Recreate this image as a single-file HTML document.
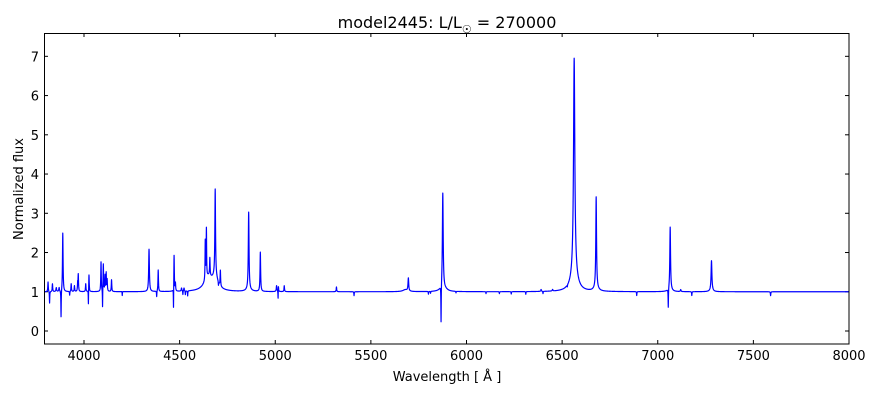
<!DOCTYPE html>
<html><head><meta charset="utf-8"><style>
body{margin:0;background:#fff;}
svg{display:block;font-family:"DejaVu Sans","Liberation Sans",sans-serif;}
</style></head><body>
<svg id="s" width="880" height="400" xmlns="http://www.w3.org/2000/svg">
<rect width="880" height="400" fill="#fff"/>
<text x="447" y="28" font-size="16" text-anchor="middle">model2445: L/L<tspan font-size="11" dy="5">☉</tspan><tspan dy="-5"> = 270000</tspan></text>
<text x="447" y="381" font-size="13" text-anchor="middle">Wavelength [ Å ]</text>
<text transform="translate(23,189) rotate(-90)" font-size="13" text-anchor="middle">Normalized flux</text>
<g id="ticks" font-size="13"></g>
<polyline id="spec" fill="none" stroke="#0000ff" stroke-width="1.2" stroke-linejoin="round"/>
<rect x="44.5" y="33.5" width="804.5" height="310.5" fill="none" stroke="#000" stroke-width="1"/>
</svg>
<script>
var X=function(w){return 84+(w-4000)*0.19125;};
var Y=function(f){return 331-39.24*f;};
var g=document.getElementById('ticks'),h='';
for(var w=4000;w<=8000;w+=500){var x=X(w);h+='<line x1="'+x+'" y1="344" x2="'+x+'" y2="340" stroke="#000"/><line x1="'+x+'" y1="33" x2="'+x+'" y2="37" stroke="#000"/><text x="'+x+'" y="360" text-anchor="middle">'+w+'</text>';}
for(var f=0;f<=7;f++){var y=Y(f);h+='<line x1="44" y1="'+y+'" x2="48" y2="'+y+'" stroke="#000"/><line x1="849" y1="'+y+'" x2="845" y2="'+y+'" stroke="#000"/><text x="39" y="'+(y+5)+'" text-anchor="end">'+f+'</text>';}
g.innerHTML=h;
var L=[
[3812,0.25,1.5],[3820,-0.3,1],[3835,0.2,1.5],[3855,0.1,2],[3870,0.1,2],[3880,-0.7,1],[3889,1.5,1.8],
[3925,-0.1,1],[3933,0.2,1.5],[3950,0.15,1.5],[3967,0.2,1.5],[3970,0.42,1.5],[4009,0.2,1.5],[4023,-0.4,0.8],[4026,0.45,1.5],
[4089,0.75,1.5],[4097,-0.5,0.8],[4101,0.7,1.5],[4110,0.4,1.5],[4116,0.45,1.2],[4121,0.3,1.5],[4144,0.3,1.5],[4200,-0.15,1],[4200,0.05,2],
[4340,1.08,2.2],[4380,-0.15,1],[4388,0.55,1.5],[4468,-0.6,0.8],[4471,0.95,1.5],[4478,0.2,1.5],[4510,0.08,2],[4517,-0.1,1],[4523,0.08,2],[4530,-0.1,1],[4542,-0.13,1],
[4650,0.35,25],[4634,1.0,1.3],[4640,1.25,1.3],[4658,0.45,1.5],[4686,2.2,2],[4686,0.3,18],[4703,-0.1,1],[4713,0.4,1.5],[4861,1.97,2.2],[4861,0.05,15],[4922,1.0,1.8],
[5007,0.15,2],[5015,-0.35,1],[5016,0.25,1.5],[5047,0.15,1.5],[5320,0.12,1.5],[5412,-0.1,1],[5696,0.33,2.2],[5680,0.05,15],[5801,-0.07,1],[5812,-0.05,1],
[5867,-1.0,1.0],[5876,2.45,2.5],[5876,0.06,20],[5890,0.03,15],[5945,-0.04,1],[6102,-0.05,1],[6172,-0.05,1],[6234,-0.06,1],[6310,-0.07,1],[6390,0.05,2],[6400,-0.06,1],[6450,0.04,2],[6527,-0.05,1],
[6563,5.5,4],[6563,0.45,20],[6678,2.3,2.2],[6678,0.1,12],[6890,-0.1,1],[7055,-0.5,1],[7065,1.6,2.2],[7065,0.05,12],[7120,0.05,2],[7178,-0.1,1],[7281,0.76,2.5],[7281,0.03,10],[7590,-0.1,1.2]];
var p=[];
for(var w=3792;w<=8000;w+=0.5){var f=1;for(var i=0;i<L.length;i++){var d=(w-L[i][0])/L[i][2];f+=L[i][1]/(1+d*d);}p.push(X(w).toFixed(2)+','+Y(f).toFixed(2));}
document.getElementById('spec').setAttribute('points',p.join(' '));
</script>
</body></html>
